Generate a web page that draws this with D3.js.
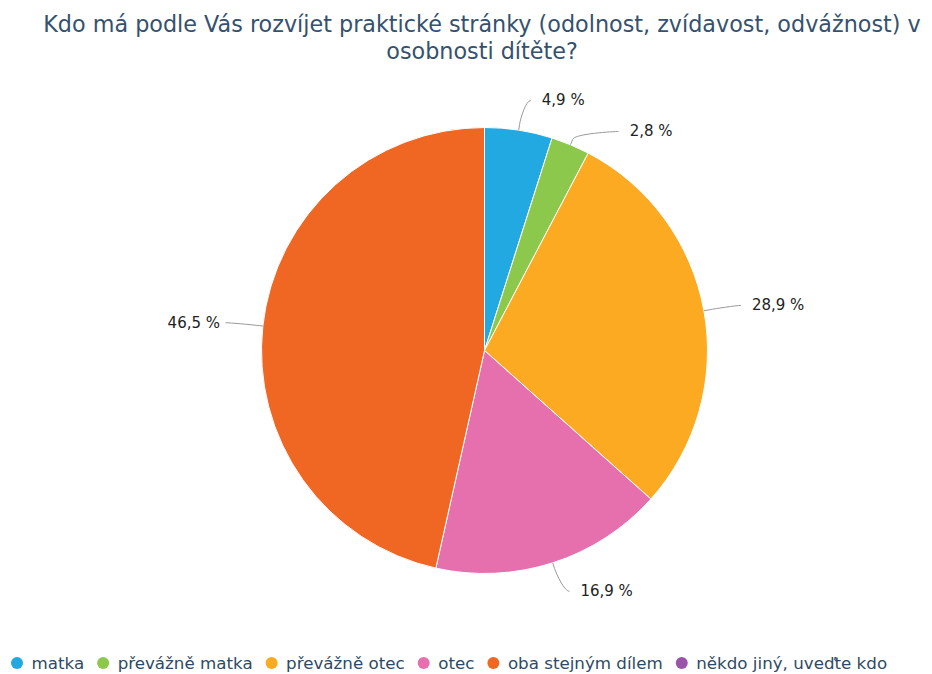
<!DOCTYPE html>
<html>
<head>
<meta charset="utf-8">
<script src="https://cdn.jsdelivr.net/npm/d3@7"></script>
<style>
html,body{margin:0;padding:0;background:#fff;}
svg{display:block;}
</style>
</head>
<body>
<svg id="chart" width="932" height="674"></svg>
<script>
const titleLines = ["Kdo má podle Vás rozvíjet praktické stránky (odolnost, zvídavost, odvážnost) v", "osobnosti dítěte?"];
const categories = ["matka", "převážně matka", "převážně otec", "otec", "oba stejným dílem", "někdo jiný, uveďte kdo"];
const values = [4.9, 2.8, 28.9, 16.9, 46.5, 0];
const colors = ["#22a9e1", "#8cc84b", "#fbaa22", "#e670ae", "#f06724", "#9a55aa"];

const svg = d3.select("#chart");
const font = "'DejaVu Sans', Verdana, sans-serif";
const cx = 484.5, cy = 350.5, r = 223, dist = 30;

// Title
const tl = svg.append("g").selectAll("text").data(titleLines).join("text")
  .attr("x", 482).attr("y", (d, i) => 32 + i * 27)
  .attr("text-anchor", "middle")
  .attr("font-family", font).attr("font-size", 19)
  .attr("fill", "#34516f")
  .text(d => d);
const w0 = tl.nodes()[0].getComputedTextLength();
tl.attr("font-size", 19 * 878 / w0);

// Pie
const data = categories.map((c, i) => ({cat: c, value: values[i], color: colors[i]}));
const pie = d3.pie().sort(null).value(d => d.value);
const arcs = pie(data);
const arc = d3.arc().innerRadius(0).outerRadius(r);
const g = svg.append("g").attr("transform", `translate(${cx},${cy})`);
g.selectAll("path").data(arcs.filter(a => a.data.value > 0)).join("path")
  .attr("d", arc).attr("fill", d => d.data.color)
  .attr("stroke", "#fff").attr("stroke-width", 1).attr("stroke-linejoin", "round");

// Labels (Highcharts-like placement)
const fmt = v => d3.format(".1f")(v).replace(".", ",") + " %";
const labels = arcs.filter(a => a.data.value > 0).map(a => {
  const mid = (a.startAngle + a.endAngle) / 2;
  const ang = mid - Math.PI / 2;
  return {
    a, left: mid > Math.PI,
    cos: Math.cos(ang), sin: Math.sin(ang),
    y: cy + (r + dist) * Math.sin(ang)
  };
});
[false, true].forEach(isLeft => {
  const ls = labels.filter(l => l.left === isLeft).sort((p, q) => p.y - q.y);
  for (let i = 1; i < ls.length; i++) {
    if (ls[i].y < ls[i - 1].y + 31) ls[i].y = ls[i - 1].y + 31;
  }
});
const getX = (y, left) => {
  const R = r + dist;
  const dy = Math.max(-R, Math.min(R, y - cy));
  return cx + (left ? -1 : 1) * Math.sqrt(R * R - dy * dy);
};
const lg = svg.append("g");
labels.forEach(l => {
  const gx = getX(l.y, l.left);
  const s = l.left ? -1 : 1;
  const ex = gx + s * 7.5, ey = l.y;
  const tx = cx + r * l.cos, ty = cy + r * l.sin;
  const bx = cx + (r + 6) * l.cos, by = cy + (r + 6) * l.sin;
  const p = d3.path();
  p.moveTo(ex, ey);
  p.bezierCurveTo(ex - s * 5, ey, 2 * bx - tx, 2 * by - ty, bx, by);
  p.lineTo(tx, ty);
  lg.append("path").attr("d", p.toString()).attr("fill", "none")
    .attr("stroke", "#9a9a9a").attr("stroke-width", 1);
  lg.append("text")
    .attr("x", l.left ? gx - 13 : gx + 18.5)
    .attr("y", l.y + 5)
    .attr("text-anchor", l.left ? "end" : "start")
    .attr("font-family", font).attr("font-size", 15)
    .attr("fill", "#222")
    .text(fmt(l.a.data.value));
});

// Legend
const leg = svg.append("g");
let x = 17;
data.forEach(d => {
  leg.append("circle").attr("cx", x).attr("cy", 663).attr("r", 6).attr("fill", d.color);
  const t = leg.append("text").attr("x", x + 14.5).attr("y", 669)
    .attr("font-family", font).attr("font-size", 16.7).attr("fill", "#2e4a66")
    .text(d.cat);
  x = x + 14.5 + t.node().getComputedTextLength() + 19;
});
</script>
</body>
</html>
